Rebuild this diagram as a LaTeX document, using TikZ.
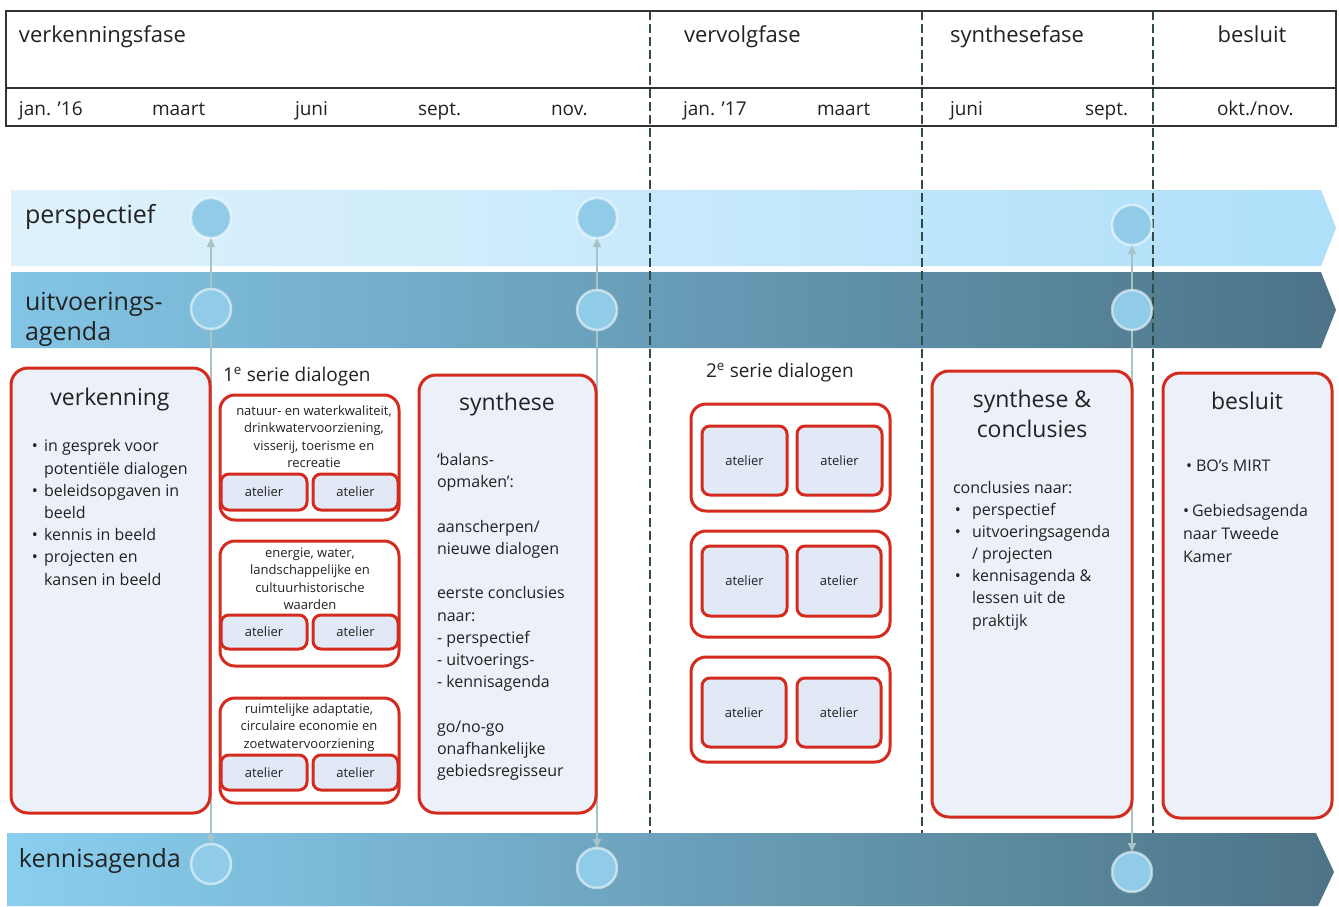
\documentclass[tikz,border=0pt]{standalone}
\usepackage{fontspec}
\setmainfont{Open Sans}
\usetikzlibrary{arrows.meta}
\pgfdeclarelayer{bands}
\pgfdeclarelayer{lines}
\pgfsetlayers{bands,lines,main}
\newcommand\myfs[2]{\fontsize{#1}{#2}\selectfont}
\definecolor{txt}{HTML}{222222}
\definecolor{hdrc}{HTML}{333333}
\definecolor{phc}{HTML}{2E4B48}
\definecolor{rred}{HTML}{D52B1E}
\definecolor{boxf}{HTML}{ECF0F8}
\definecolor{atf}{HTML}{E1E8F6}
\definecolor{cf}{HTML}{90CBE8}
\definecolor{arc}{HTML}{A6C4C6}
\definecolor{pL}{HTML}{DFF2FC}
\definecolor{pR}{HTML}{AFE0FA}
\definecolor{uL}{HTML}{83C5E5}
\definecolor{uR}{HTML}{4C7387}
\definecolor{kL}{HTML}{8ACFF0}
\definecolor{kR}{HTML}{4D7386}
\begin{document}
\begin{tikzpicture}[x=1pt,y=-1pt,
  every node/.style={inner sep=0pt, outer sep=0pt, text=txt},
  hdr/.style={draw=hdrc, line width=1.6pt},
  phase/.style={draw=phc, line width=2.4pt, dash pattern=on 9pt off 4pt},
  bigbox/.style={draw=rred, line width=3pt, fill=boxf, rounded corners=17pt, anchor=north west},
  grp/.style={draw=rred, line width=3pt, fill=white, rounded corners=15pt, anchor=north west},
  atl/.style={draw=rred, line width=3pt, fill=atf, rounded corners=8pt, anchor=north west, font=\myfs{13}{15}},
  circ/.style={circle, minimum size=40pt, fill=cf, draw=white, draw opacity=.55, line width=2.5pt},
  conn/.style={draw=arc, line width=2pt, arrows={Triangle[length=9pt,width=8pt]-Triangle[length=9pt,width=8pt]}},
  hdtext/.style={font=\myfs{22}{26}},
  datetext/.style={font=\myfs{19}{22}, anchor=base west},
  bandtext/.style={font=\myfs{25}{30}, anchor=base west, align=left},
  titletext/.style={font=\myfs{23}{30}, anchor=base, align=center},
  bodytext/.style={font=\myfs{16}{22.2}, anchor=base west, align=left},
  grptext/.style={font=\myfs{13}{17.5}, anchor=base, align=center},
  serietext/.style={font=\myfs{19}{22}, anchor=base west}
]
\useasboundingbox (0,0) rectangle (1339,906);
\begin{pgfonlayer}{bands}
\fill[white] (0,0) rectangle (1339,906);
\shade[left color=pL, right color=pR] (11,190) -- (1321,190) -- (1336,228) -- (1321,266) -- (11,266) -- cycle;
\shade[left color=uL, right color=uR] (11,272) -- (1321,272) -- (1336,310) -- (1321,348) -- (11,348) -- cycle;
\shade[left color=kL, right color=kR] (7,833) -- (1316,833) -- (1334,872) -- (1318,906) -- (7,906) -- cycle;
\end{pgfonlayer}

% header
\draw[hdr] (6,11) rectangle (1336,126);
\draw[hdr] (6,88) -- (1336,88);
\node[hdtext, anchor=base west] (h1) at (19,42) {verkenningsfase};
\node[hdtext, anchor=base west] (h2) at (684,42) {vervolgfase};
\node[hdtext, anchor=base west] (h3) at (950,42) {synthesefase};
\node[hdtext, anchor=base] (h4) at (1252,42) {besluit};
\node[datetext] (d1) at (19,115) {jan. ’16};
\node[datetext] (d2) at (152,115) {maart};
\node[datetext] (d3) at (295,115) {juni};
\node[datetext] (d4) at (418,115) {sept.};
\node[datetext] (d5) at (551,115) {nov.};
\node[datetext] (d6) at (683,115) {jan. ’17};
\node[datetext] (d7) at (817,115) {maart};
\node[datetext] (d8) at (950,115) {juni};
\node[datetext] (d9) at (1085,115) {sept.};
\node[datetext] (d10) at (1217,115) {okt./nov.};

% band labels
\node[bandtext] (lp) at (25,223) {perspectief};
\node[bandtext] (lu) at (25,340) {uitvoerings-\\agenda};
\node[bandtext] (lk) at (19,867) {kennisagenda};

% circles
\node[circ] (p1) at (211,218) {};
\node[circ] (p2) at (597,218) {};
\node[circ] (p3) at (1132,225) {};
\node[circ] (u1) at (211,309) {};
\node[circ] (u2) at (597,310) {};
\node[circ] (u3) at (1132,310) {};
\node[circ] (k1) at (211,864) {};
\node[circ] (k2) at (597,868) {};
\node[circ] (k3) at (1132,872) {};

\begin{pgfonlayer}{lines}
\draw[phase] (650,11) -- (650,833);
\draw[phase] (922,11) -- (922,833);
\draw[phase] (1153,11) -- (1153,833);
\draw[conn] (p1) -- (k1);
\draw[conn] (p2) -- (k2);
\draw[conn] (p3) -- (k3);
\end{pgfonlayer}

% verkenning
\node[bigbox, minimum width=199pt, minimum height=445pt] (verk) at (11,368) {};
\node[titletext] (tverk) at (110,405) {verkenning};
\node[bodytext] (bverk) at (44,585) {\llap{•\hspace{6pt}}in gesprek voor\\potentiële dialogen\\\llap{•\hspace{6pt}}beleidsopgaven in\\beeld\\\llap{•\hspace{6pt}}kennis in beeld\\\llap{•\hspace{6pt}}projecten en\\kansen in beeld};

% 1e serie dialogen
\node[serietext] (s1) at (223,381) {1\textsuperscript{e} serie dialogen};
\node[grp, minimum width=179pt, minimum height=125pt] (g1) at (220,395) {};
\node[grptext] (g1t) at (314,467.5) {natuur- en waterkwaliteit,\\drinkwatervoorziening,\\visserij, toerisme en\\recreatie};
\node[atl, minimum width=86pt, minimum height=36pt] (a11) at (221,474) {atelier};
\node[atl, minimum width=85pt, minimum height=36pt] (a12) at (313,474) {atelier};
\node[grp, minimum width=179pt, minimum height=125pt] (g2) at (220,541) {};
\node[grptext] (g2t) at (310,609.5) {energie, water,\\landschappelijke en\\cultuurhistorische\\waarden};
\node[atl, minimum width=86pt, minimum height=34pt] (a21) at (221,615) {atelier};
\node[atl, minimum width=85pt, minimum height=34pt] (a22) at (313,615) {atelier};
\node[grp, minimum width=179pt, minimum height=105pt] (g3) at (220,698) {};
\node[grptext] (g3t) at (309,748) {ruimtelijke adaptatie,\\circulaire economie en\\zoetwatervoorziening};
\node[atl, minimum width=86pt, minimum height=35pt] (a31) at (221,755) {atelier};
\node[atl, minimum width=85pt, minimum height=35pt] (a32) at (313,755) {atelier};

% synthese
\node[bigbox, minimum width=177pt, minimum height=438pt] (syn) at (419,375) {};
\node[titletext] (tsyn) at (507,410) {synthese};
\node[bodytext] (bsyn) at (437,776.5) {‘balans-\\opmaken’:\\\mbox{}\\aanscherpen/\\nieuwe dialogen\\\mbox{}\\eerste conclusies\\naar:\\- perspectief\\- uitvoerings-\\- kennisagenda\\\mbox{}\\go/no-go\\onafhankelijke\\gebiedsregisseur};

% 2e serie dialogen
\node[serietext] (s2) at (706,377) {2\textsuperscript{e} serie dialogen};
\node[grp, minimum width=199pt, minimum height=107pt] (h21) at (691,404) {};
\node[atl, minimum width=85pt, minimum height=69pt] (b11) at (702,426) {atelier};
\node[atl, minimum width=85pt, minimum height=69pt] (b12) at (797,426) {atelier};
\node[grp, minimum width=199pt, minimum height=106pt] (h22) at (691,531) {};
\node[atl, minimum width=85pt, minimum height=70pt] (b21) at (702,546) {atelier};
\node[atl, minimum width=84pt, minimum height=70pt] (b22) at (797,546) {atelier};
\node[grp, minimum width=199pt, minimum height=105pt] (h23) at (691,657) {};
\node[atl, minimum width=84pt, minimum height=69pt] (b31) at (702,678) {atelier};
\node[atl, minimum width=84pt, minimum height=69pt] (b32) at (797,678) {atelier};

% synthese & conclusies
\node[bigbox, minimum width=200pt, minimum height=446pt] (sc) at (932,371) {};
\node[titletext] (tsc) at (1032,437) {synthese \&\\conclusies};
\node[bodytext] (bsc0) at (953,493) {conclusies naar:};
\node[bodytext] (bsc) at (972,626) {\llap{•\hspace{11pt}}perspectief\\\llap{•\hspace{11pt}}uitvoeringsagenda\\/ projecten\\\llap{•\hspace{11pt}}kennisagenda \&\\lessen uit de\\praktijk};

% besluit
\node[bigbox, minimum width=169pt, minimum height=445pt] (bes) at (1163,373) {};
\node[titletext] (tbes) at (1247,409) {besluit};
\node[bodytext, font=\myfs{16}{22.7}] (bbes) at (1183,562) {\hspace*{3pt}•\hspace{4pt}BO’s MIRT\\\mbox{}\\•\hspace{3pt}Gebiedsagenda\\naar Tweede\\Kamer};
\end{tikzpicture}
\end{document}
